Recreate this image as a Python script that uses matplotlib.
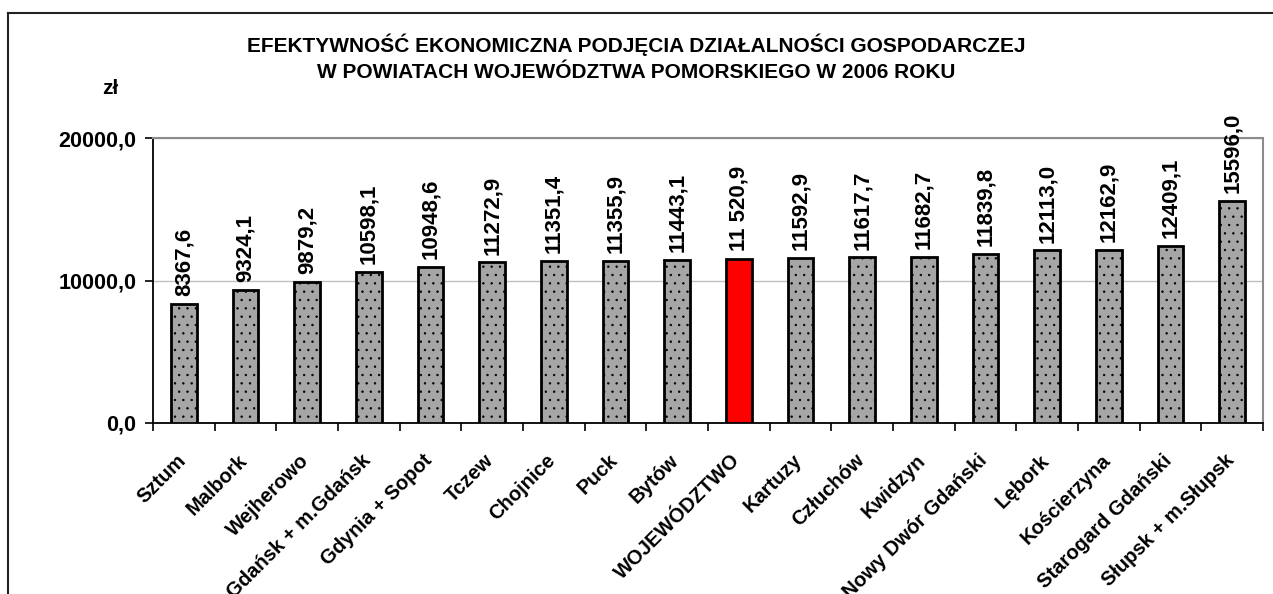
import matplotlib.pyplot as plt
from matplotlib.lines import Line2D
from matplotlib.transforms import ScaledTranslation

plt.rcParams['font.family'] = ['Liberation Sans', 'DejaVu Sans']
plt.rcParams['font.weight'] = 'bold'
plt.rcParams['hatch.color'] = '#707070'
plt.rcParams['hatch.linewidth'] = 0.5

powiaty = ["Sztum", "Malbork", "Wejherowo", "Gdańsk + m.Gdańsk", "Gdynia + Sopot",
           "Tczew", "Chojnice", "Puck", "Bytów", "WOJEWÓDZTWO", "Kartuzy",
           "Człuchów", "Kwidzyn", "Nowy Dwór Gdański", "Lębork", "Kościerzyna",
           "Starogard Gdański", "Słupsk + m.Słupsk"]
wartosci = [8367.6, 9324.1, 9879.2, 10598.1, 10948.6, 11272.9, 11351.4, 11355.9,
            11443.1, 11520.9, 11592.9, 11617.7, 11682.7, 11839.8, 12113.0, 12162.9,
            12409.1, 15596.0]
etykiety = ["8367,6", "9324,1", "9879,2", "10598,1", "10948,6", "11272,9", "11351,4",
            "11355,9", "11443,1", "11 520,9", "11592,9", "11617,7", "11682,7",
            "11839,8", "12113,0", "12162,9", "12409,1", "15596,0"]

fig = plt.figure(figsize=(12.73, 5.94), dpi=100)
ax = fig.add_axes([153 / 1273, 1 - 423 / 594, 1110 / 1273, 285 / 594])

x = list(range(len(powiaty)))
kolory = ['red' if p == "WOJEWÓDZTWO" else '#a6a6a6' for p in powiaty]
bars = ax.bar(x, wartosci, width=0.42, color=kolory, edgecolor='black', linewidth=2, zorder=3)
for b, p in zip(bars, powiaty):
    if p != "WOJEWÓDZTWO":
        b.set_hatch('..')

for xi, v, t in zip(x, wartosci, etykiety):
    ax.text(xi, v + 550, t, rotation=90, ha='center', va='bottom',
            fontsize=16, fontweight='bold', zorder=4, clip_on=False)

ax.set_xlim(-0.5, len(powiaty) - 0.5)
ax.set_ylim(0, 20000)
ax.set_yticks([0, 10000, 20000])
ax.set_yticklabels(["0,0", "10000,0", "20000,0"], fontsize=15.5, fontweight='bold')
ax.yaxis.grid(True, color='#c0c0c0', linewidth=1, zorder=0)

ax.set_xticks([i - 0.5 for i in x] + [len(powiaty) - 0.5])
ax.set_xticklabels([])
ax.set_xticks(x, minor=True)
ax.set_xticklabels(powiaty, minor=True, rotation=45, ha='right', rotation_mode='anchor',
                   fontsize=14.5, fontweight='bold')
ax.tick_params(axis='x', which='minor', length=0, pad=20)
ax.tick_params(axis='x', which='major', length=6, width=1.2, direction='out')
ax.tick_params(axis='y', length=6, width=1.2, direction='out', pad=6)

przesun = ScaledTranslation(-8 / 100, 0, fig.dpi_scale_trans)
for lab in ax.get_xticklabels(minor=True):
    lab.set_transform(lab.get_transform() + przesun)

for s in ['left', 'bottom']:
    ax.spines[s].set_linewidth(1.3)
    ax.spines[s].set_color('black')
for s in ['top', 'right']:
    ax.spines[s].set_linewidth(1.5)
    ax.spines[s].set_color('#8c8c8c')

fig.text(0.5, 1 - 45 / 594, "EFEKTYWNOŚĆ EKONOMICZNA PODJĘCIA DZIAŁALNOŚCI GOSPODARCZEJ",
         ha='center', va='center', fontsize=15, fontweight='bold')
fig.text(0.5, 1 - 72 / 594, "W POWIATACH WOJEWÓDZTWA POMORSKIEGO W 2006 ROKU",
         ha='center', va='center', fontsize=15, fontweight='bold')
fig.text(110 / 1273, 1 - 88 / 594, "zł", ha='center', va='center', fontsize=15,
         fontweight='bold')

fig.add_artist(Line2D([8 / 1273, 8 / 1273], [0, 1 - 13 / 594], color='#222222', linewidth=1.5))
fig.add_artist(Line2D([8 / 1273, 1], [1 - 13 / 594, 1 - 13 / 594], color='#222222', linewidth=1.5))

plt.savefig("out.png", dpi=100)
